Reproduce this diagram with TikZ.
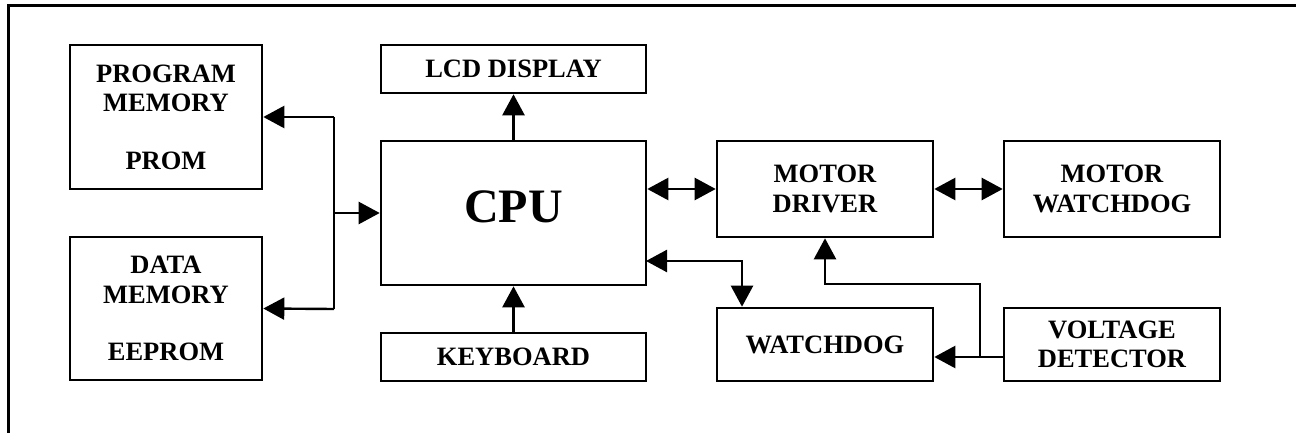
\documentclass[tikz,border=0pt]{standalone}
\usepackage{fontspec}
\setmainfont{Liberation Serif}
\usetikzlibrary{arrows.meta}
\begin{document}
\begin{tikzpicture}[x=1pt,y=-1pt,
  blk/.style={draw,line width=2.6pt,inner sep=0pt,align=center,
    font=\fontsize{26.5}{29.5}\selectfont\bfseries},
  conn/.style={line width=2.4pt},
  tri/.tip={Triangle[length=21pt,width=22pt]}]
\useasboundingbox (0,0) rectangle (1296,433);
% frame (top and left edges visible)
\draw[line width=3pt] (8,433) -- (8,6) -- (1296,6);
% blocks
\node[blk,minimum width=192pt,minimum height=144pt] (pm) at (166,117) {PROGRAM\\MEMORY\\[28pt]PROM};
\node[blk,minimum width=192pt,minimum height=143pt] (dm) at (166,308.5) {DATA\\MEMORY\\[28pt]EEPROM};
\node[blk,minimum width=265pt,minimum height=48pt] (lcd) at (513.5,69) {LCD DISPLAY};
\node[blk,minimum width=265pt,minimum height=144pt,text depth=12pt,
  font=\fontsize{48}{52}\selectfont\bfseries] (cpu) at (513.5,213) {CPU};
\node[blk,minimum width=265pt,minimum height=48pt] (kb) at (513.5,357) {KEYBOARD};
\node[blk,minimum width=216pt,minimum height=96pt] (md) at (825,189) {MOTOR\\DRIVER};
\node[blk,minimum width=216pt,minimum height=96pt] (mw) at (1112,189) {MOTOR\\WATCHDOG};
\node[blk,minimum width=216pt,minimum height=73pt] (wd) at (825,344.5) {WATCHDOG};
\node[blk,minimum width=216pt,minimum height=73pt] (vd) at (1112,344.5) {VOLTAGE\\DETECTOR};
% helper coordinates
\coordinate (bt) at (334,117);
\coordinate (bb) at (334,309);
\coordinate (bm) at (334,213);
\coordinate (cw) at (646,261);
\coordinate (wx) at (742,0);
\coordinate (vo) at (1004,357);
\coordinate (vj) at (980,357);
\coordinate (mj) at (0,284);
% connectors
\draw[conn,-tri] (bt) -- (pm.east);
\draw[conn,-tri] (bb) -- (dm.east);
\draw[conn] (bt) -- (bb);
\draw[conn,-tri] (bm) -- (cpu.west);
\draw[conn,-tri] (cpu.north) -- (lcd.south);
\draw[conn,-tri] (kb.north) -- (cpu.south);
\draw[conn,tri-tri] (cpu.east |- md.west) -- (md.west);
\draw[conn,tri-tri] (md.east) -- (mw.west);
\draw[conn,tri-tri] (cw) -| (wx |- wd.north);
\draw[conn,-tri] (vo) -- (wd.east |- vo);
\draw[conn,-tri] (vj) |- (md.south |- mj) -- (md.south);
\end{tikzpicture}
\end{document}
